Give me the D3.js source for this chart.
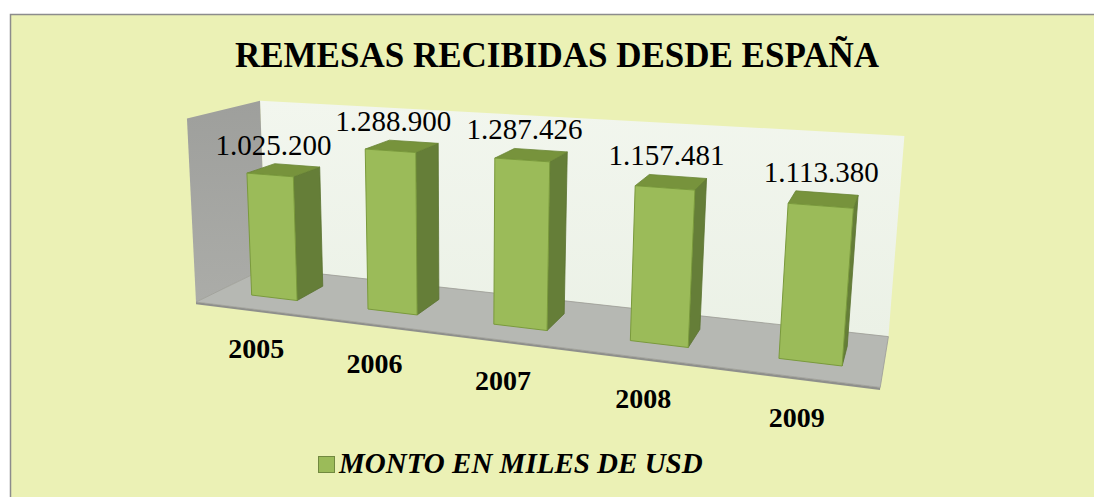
<!DOCTYPE html>
<html>
<head>
<meta charset="utf-8" />
<style>
body { margin: 0; background: #fff; }
svg { display: block; }
text { font-family: "Liberation Serif", "Times New Roman", serif; }
</style>
<script src="https://cdnjs.cloudflare.com/ajax/libs/d3/7.8.5/d3.min.js"></script>
</head>
<body>
<div id="graph"></div>
<script>
// datos
var years = ["2005", "2006", "2007", "2008", "2009"];
var montos = [1025200, 1288900, 1287426, 1157481, 1113380];
var titulo = "REMESAS RECIBIDAS DESDE ESPAÑA";
var serie = "MONTO EN MILES DE USD";

var W = 1094, H = 497;

// corners of the 3d box (u, v, w) -> where they land on screen
var corners = [
  [0, 0, 1, 263, 268],
  [1, 0, 1, 889, 336],
  [0, 1, 1, 263, 101],
  [1, 1, 1, 904, 136],
  [0, 0, 0, 199, 302],
  [1, 0, 0, 880, 388],
  [0, 1, 0, 184, 118]
];

// least squares fit of a perspective camera (DLT)
function fitCamera(pts) {
  var A = [], b = [];
  pts.forEach(function (p) {
    var u = p[0], v = p[1], w = p[2], x = p[3] / 1000, y = p[4] / 1000;
    A.push([u, v, w, 1, 0, 0, 0, 0, -x * u, -x * v, -x * w]); b.push(x);
    A.push([0, 0, 0, 0, u, v, w, 1, -y * u, -y * v, -y * w]); b.push(y);
  });
  var n = 11, M = [];
  for (var i = 0; i < n; i++) {
    M[i] = [];
    for (var j = 0; j <= n; j++) {
      var s = 0;
      for (var k = 0; k < A.length; k++) s += A[k][i] * (j < n ? A[k][j] : b[k]);
      M[i][j] = s;
    }
  }
  for (var c = 0; c < n; c++) {
    var piv = c;
    for (var r = c + 1; r < n; r++) if (Math.abs(M[r][c]) > Math.abs(M[piv][c])) piv = r;
    var t = M[c]; M[c] = M[piv]; M[piv] = t;
    for (var r2 = 0; r2 < n; r2++) {
      if (r2 === c) continue;
      var f = M[r2][c] / M[c][c];
      for (var j2 = c; j2 <= n; j2++) M[r2][j2] -= f * M[c][j2];
    }
  }
  return M.map(function (row, i) { return row[n] / row[i]; });
}

var P = fitCamera(corners);

function proj(u, v, w) {
  var d = P[8] * u + P[9] * v + P[10] * w + 1;
  return [(P[0] * u + P[1] * v + P[2] * w + P[3]) / d * 1000,
          (P[4] * u + P[5] * v + P[6] * w + P[7]) / d * 1000];
}
function quad(pts) {
  return "M" + pts.map(function (p) { return proj(p[0], p[1], p[2]).join(","); }).join("L") + "Z";
}

var xScale = d3.scaleBand()
  .domain(years)
  .range([0, 1.01])
  .paddingInner(0.6)
  .paddingOuter(0.3);

var yScale = d3.scaleLinear()
  .domain([0, 1500000])
  .range([0, 1]);

var w0 = 0.3, w1 = 0.7;

var fmt = d3.formatLocale({ decimal: ",", thousands: ".", grouping: [3], currency: ["$", ""] }).format(",d");

var svg = d3.select("#graph").append("svg")
  .attr("width", W)
  .attr("height", H);

var defs = svg.append("defs");
var gBack = defs.append("linearGradient").attr("id", "backWall")
  .attr("x1", 0).attr("y1", 0).attr("x2", 0).attr("y2", 1);
gBack.append("stop").attr("offset", "0%").attr("stop-color", "#F2F6EE");
gBack.append("stop").attr("offset", "100%").attr("stop-color", "#EBF1E6");
var gLeft = defs.append("linearGradient").attr("id", "leftWall")
  .attr("x1", 0).attr("y1", 0).attr("x2", 0).attr("y2", 1);
gLeft.append("stop").attr("offset", "0%").attr("stop-color", "#9E9F9C");
gLeft.append("stop").attr("offset", "100%").attr("stop-color", "#ABACA8");

// chart area
svg.append("rect")
  .attr("x", 10.5).attr("y", 14.5)
  .attr("width", 1100).attr("height", 500)
  .attr("fill", "#EBF1B5")
  .attr("stroke", "#8C8C8C")
  .attr("stroke-width", 1.5);

svg.append("text")
  .attr("x", 557).attr("y", 67)
  .attr("text-anchor", "middle")
  .style("font-size", "35px")
  .style("font-weight", "bold")
  .text(titulo);

// walls and floor
svg.append("path")
  .attr("d", quad([[0, 0, 1], [1, 0, 1], [1, 1, 1], [0, 1, 1]]))
  .attr("fill", "url(#backWall)");
svg.append("path")
  .attr("d", quad([[0, 0, 0], [0, 0, 1], [0, 1, 1], [0, 1, 0]]))
  .attr("fill", "url(#leftWall)");
svg.append("path")
  .attr("d", quad([[0, -0.012, 0], [1, -0.012, 0], [1, 0, 0], [0, 0, 0]]))
  .attr("fill", "#8E8F8C");
svg.append("path")
  .attr("d", quad([[0, 0, 0], [1, 0, 0], [1, 0, 1], [0, 0, 1]]))
  .attr("fill", "#B6B8B3")
  .attr("stroke", "#9A9B98")
  .attr("stroke-width", 0.8);

// bars
var bars = svg.selectAll(".bar")
  .data(years.map(function (y, i) { return { year: y, value: montos[i] }; }))
  .enter().append("g")
  .attr("class", "bar");

bars.append("path")
  .attr("d", function (d) {
    var u1 = xScale(d.year) + xScale.bandwidth(), h = yScale(d.value);
    return quad([[u1, 0, w0], [u1, 0, w1], [u1, h, w1], [u1, h, w0]]);
  })
  .attr("fill", "#657E38")
  .attr("stroke", "#5A7231")
  .attr("stroke-width", 0.8);

bars.append("path")
  .attr("d", function (d) {
    var u0 = xScale(d.year), u1 = u0 + xScale.bandwidth(), h = yScale(d.value);
    return quad([[u0, h, w0], [u1, h, w0], [u1, h, w1], [u0, h, w1]]);
  })
  .attr("fill", "#77933C")
  .attr("stroke", "#6A8535")
  .attr("stroke-width", 0.8);

bars.append("path")
  .attr("d", function (d) {
    var u0 = xScale(d.year), u1 = u0 + xScale.bandwidth(), h = yScale(d.value);
    return quad([[u0, 0, w0], [u1, 0, w0], [u1, h, w0], [u0, h, w0]]);
  })
  .attr("fill", "#9BBB59")
  .attr("stroke", "#7A9A3C")
  .attr("stroke-width", 1);

// value labels
bars.append("text")
  .attr("x", function (d) {
    return proj(xScale(d.year) + xScale.bandwidth() / 2, yScale(d.value), 0.35)[0];
  })
  .attr("y", function (d) {
    var u0 = xScale(d.year), h = yScale(d.value);
    return Math.min(proj(u0, h, w1)[1], proj(u0 + xScale.bandwidth(), h, w1)[1]) - 9;
  })
  .attr("text-anchor", "middle")
  .style("font-size", "29px")
  .text(function (d) { return fmt(d.value); });

// category labels
svg.selectAll(".year")
  .data(years)
  .enter().append("text")
  .attr("class", "year")
  .attr("x", function (d) {
    var uc = xScale(d) + xScale.bandwidth() / 2;
    return proj(uc, 0, 0)[0] + 4.5 - 14 * uc;
  })
  .attr("y", function (d) { return proj(xScale(d) + xScale.bandwidth() / 2, 0, 0)[1] + 49; })
  .attr("text-anchor", "middle")
  .style("font-size", "28px")
  .style("font-weight", "bold")
  .text(function (d) { return d; });

// legend
svg.append("rect")
  .attr("x", 318.5).attr("y", 456.5)
  .attr("width", 16).attr("height", 16)
  .attr("fill", "#9BBB59")
  .attr("stroke", "#71893F");
svg.append("text")
  .attr("x", 339).attr("y", 473)
  .style("font-size", "29px")
  .style("font-weight", "bold")
  .style("font-style", "italic")
  .text(serie);
</script>
</body>
</html>
